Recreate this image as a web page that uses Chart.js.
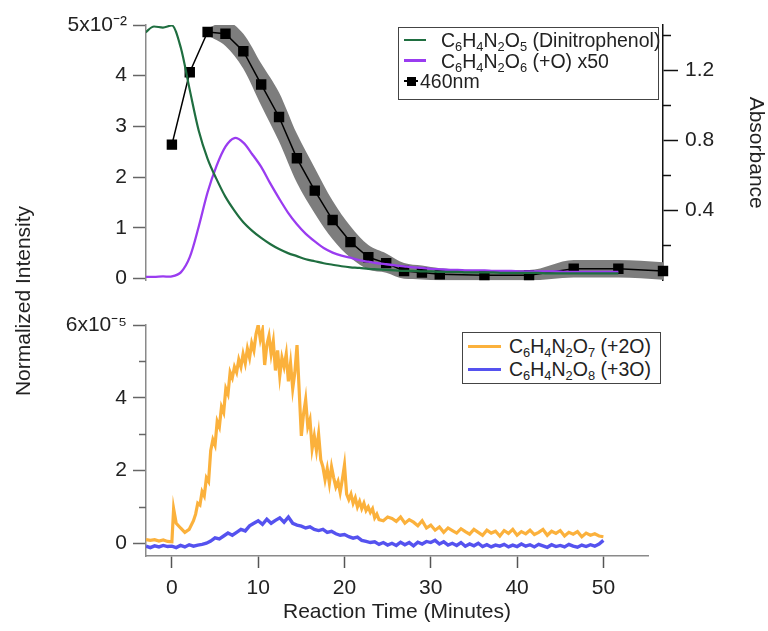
<!DOCTYPE html>
<html>
<head>
<meta charset="utf-8">
<script src="https://cdn.jsdelivr.net/npm/chart.js@4.4.1/dist/chart.umd.min.js"></script>
<style>
    body { margin: 0; background: #fff; }
    #wrap { position: relative; width: 768px; height: 631px; overflow: hidden; font-family: 'Liberation Sans', Arial, sans-serif; color: #222; }
    canvas { position: absolute; left: 0; }
    .ytitle { position: absolute; width: 300px; left: -127px; top: 288px; height: 26px; line-height: 26px; text-align: center; font-size: 21px; transform: rotate(-90deg); }
    .legend { position: absolute; box-sizing: border-box; border: 1px solid #444; background: #fff; font-size: 19.5px; }
    .legend .row { position: absolute; white-space: nowrap; height: 22px; line-height: 22px; }
    .legend sub { font-size: 0.66em; vertical-align: -0.28em; line-height: 0; }
    .legend .line { position: absolute; }
    .legend .mark { position: absolute; width: 9px; height: 9px; background: #000; }
</style>
</head>
<body>
<div id="wrap">
    <canvas id="topChart" width="768" height="300" style="top:0;width:768px;height:300px"></canvas>
    <canvas id="bottomChart" width="768" height="331" style="top:300px;width:768px;height:331px"></canvas>
    <div class="ytitle">Normalized Intensity</div>
    <div id="legendTop" class="legend" style="left:398px;top:27px;width:261px;height:73px"></div>
    <div id="legendBottom" class="legend" style="left:462px;top:332px;width:199px;height:52px"></div>
</div>
<script>
// top panel: MS traces (x10^-2) and 460 nm absorbance
const topTime = [-3, -2, -1, 0, 1, 2, 3, 4, 5, 6, 7, 8, 9, 10, 11, 12, 13, 14, 15, 16, 17, 18, 19, 20,
    21, 22, 23, 24, 25, 26, 27, 28, 29, 30, 31, 32, 33, 34, 35, 36, 37, 38, 39, 40,
    41, 42, 43, 44, 45, 46, 47, 48, 49, 50];
const dinitrophenol = [4.85, 4.97, 4.95, 4.99, 4.55, 3.72, 2.92, 2.36, 1.96, 1.61, 1.34, 1.11, 0.94, 0.80,
    0.68, 0.58, 0.50, 0.44, 0.38, 0.34, 0.30, 0.27, 0.24, 0.22, 0.21, 0.19, 0.18, 0.17, 0.16, 0.15,
    0.15, 0.14, 0.14, 0.13, 0.13, 0.13, 0.12, 0.12, 0.12, 0.12, 0.11, 0.11, 0.11, 0.11, 0.11, 0.10,
    0.10, 0.10, 0.10, 0.10, 0.10, 0.10, 0.10, 0.10];
const plusO = [0.03, 0.03, 0.04, 0.04, 0.12, 0.42, 1.02, 1.70, 2.22, 2.60, 2.77, 2.68, 2.45, 2.20,
    1.88, 1.58, 1.30, 1.07, 0.88, 0.73, 0.60, 0.51, 0.45, 0.41, 0.36, 0.33, 0.30, 0.28, 0.26, 0.24,
    0.22, 0.21, 0.19, 0.18, 0.17, 0.17, 0.16, 0.16, 0.16, 0.15, 0.15, 0.15, 0.14, 0.14, 0.14, 0.14,
    0.14, 0.13, 0.13, 0.13, 0.13, 0.13, 0.13, 0.13];

const absTime = [0, 2, 4, 6, 8, 10, 12, 14, 16, 18, 20, 22, 24, 26, 28, 30, 35, 40, 45, 50, 55];
const abs460 = [0.776, 1.19, 1.42, 1.41, 1.31, 1.12, 0.934, 0.698, 0.513, 0.345, 0.219, 0.132, 0.099,
    0.054, 0.045, 0.035, 0.030, 0.030, 0.067, 0.067, 0.054];
// shaded band, starts at 4 min
const bandTime = [4, 6, 8, 10, 12, 14, 16, 18, 20, 22, 24, 26, 28, 30, 35, 40, 45, 50, 55];
const bandCenter = [1.42, 1.41, 1.31, 1.12, 0.934, 0.698, 0.513, 0.345, 0.219, 0.132, 0.099,
    0.054, 0.045, 0.035, 0.030, 0.030, 0.067, 0.067, 0.054];
const bandErr = [0.02, 0.07, 0.10, 0.12, 0.14, 0.14, 0.13, 0.11, 0.09, 0.07, 0.055, 0.045, 0.04,
    0.035, 0.03, 0.03, 0.05, 0.05, 0.05];

// bottom panel (x10^-5)
const plus2OTime = [-3, -2.5, -2, -1.5, -1, -0.5, 0, 0.2, 0.5, 1, 1.5, 2, 2.5,
    2.75, 3, 3.25, 3.5, 3.75, 4, 4.25, 4.5, 4.75, 5, 5.25, 5.5, 5.75, 6, 6.25, 6.5, 6.75, 7,
    7.25, 7.5, 7.75, 8, 8.25, 8.5, 8.75, 9, 9.25, 9.5, 9.75, 10, 10.25, 10.5, 10.75, 11,
    11.25, 11.5, 11.75, 12, 12.25, 12.5, 12.75, 13, 13.25, 13.5, 13.75, 14, 14.25, 14.5, 14.75, 15,
    15.25, 15.5, 15.75, 16, 16.25, 16.5, 16.75, 17, 17.25, 17.5, 17.75, 18, 18.25, 18.5, 18.75, 19,
    19.25, 19.5, 19.75, 20, 20.25, 20.5, 20.75, 21, 21.25, 21.5, 21.75, 22, 22.25, 22.5, 22.75, 23,
    23.25, 23.5, 23.75, 24,
    24.5, 25, 25.5, 26, 26.5, 27, 27.5, 28, 28.5, 29, 29.5, 30, 30.5, 31, 31.5, 32, 32.5, 33, 33.5,
    34, 34.5, 35, 35.5, 36, 36.5, 37, 37.5, 38, 38.5, 39, 39.5, 40, 40.5, 41, 41.5, 42, 42.5, 43,
    43.5, 44, 44.5, 45, 45.5, 46, 46.5, 47, 47.5, 48, 48.5, 49, 49.5, 50];
const plus2O = [0.10, 0.08, 0.10, 0.06, 0.09, 0.05, 0.04, 0.95, 0.55, 0.42, 0.30, 0.38, 0.62,
    0.80, 1.10, 1.05, 1.42, 1.30, 1.80, 1.70, 2.55, 2.85, 2.70, 3.35, 3.20, 3.75, 3.60, 4.25, 4.10, 4.70, 4.55,
    4.85, 4.70, 5.05, 4.85, 5.20, 4.95, 5.35, 5.10, 5.50, 5.30, 5.75, 6.00, 5.60, 5.85, 4.90, 5.45,
    5.70, 5.20, 5.55, 4.75, 5.30, 4.60, 5.10, 4.85, 5.20, 4.45, 4.95, 4.25, 4.70, 5.45, 4.20, 2.95,
    3.55, 3.95, 3.20, 3.40, 2.60, 2.95, 2.55, 3.00, 2.30, 2.10, 1.75, 2.05, 1.65, 2.10, 1.80, 1.55,
    1.70, 1.40, 1.75, 2.15, 1.35, 1.20, 1.35, 1.10, 1.25, 1.00, 1.15, 0.95, 1.10, 0.90, 1.00, 0.85,
    0.95, 0.70, 0.80, 0.65,
    0.62, 0.72, 0.68, 0.60, 0.72, 0.55, 0.65, 0.58, 0.48, 0.62, 0.42, 0.50, 0.36, 0.45, 0.30, 0.42,
    0.35, 0.28, 0.40, 0.32, 0.25, 0.38, 0.30, 0.22, 0.36, 0.28, 0.33, 0.20, 0.35, 0.27, 0.38, 0.22,
    0.32, 0.26, 0.36, 0.24, 0.30, 0.38, 0.22, 0.33, 0.27, 0.35, 0.20, 0.30, 0.25, 0.32, 0.18, 0.28,
    0.22, 0.26, 0.20, 0.18];

const plus3OTime = [-3, -2.5, -2, -1.5, -1, -0.5, 0, 0.5, 1, 1.5, 2, 2.5, 3, 3.5, 4, 4.5, 5, 5.5, 6, 6.5,
    7, 7.5, 8, 8.5, 9, 9.5, 10, 10.5, 11, 11.5, 12, 12.5, 13, 13.5, 14, 14.5, 15, 15.5, 16, 16.5,
    17, 17.5, 18, 18.5, 19, 19.5, 20, 20.5, 21, 21.5, 22, 22.5, 23, 23.5, 24, 24.5, 25, 25.5, 26, 26.5,
    27, 27.5, 28, 28.5, 29, 29.5, 30, 30.5, 31, 31.5, 32, 32.5, 33, 33.5, 34, 34.5, 35, 35.5, 36, 36.5,
    37, 37.5, 38, 38.5, 39, 39.5, 40, 40.5, 41, 41.5, 42, 42.5, 43, 43.5, 44, 44.5, 45, 45.5, 46, 46.5,
    47, 47.5, 48, 48.5, 49, 49.5, 50];
const plus3O = [-0.08, -0.12, -0.07, -0.10, -0.06, -0.09, -0.08, -0.12, -0.06, -0.10,
    -0.04, -0.08, -0.05, -0.03, 0.00, 0.06, 0.15, 0.12, 0.20, 0.28,
    0.22, 0.30, 0.38, 0.34, 0.48, 0.55, 0.62, 0.52, 0.66, 0.55,
    0.63, 0.70, 0.58, 0.72, 0.55, 0.50, 0.47, 0.42, 0.45, 0.38,
    0.35, 0.38, 0.30, 0.33, 0.26, 0.22, 0.24, 0.18, 0.14, 0.17,
    0.08, 0.05, 0.02, 0.04, -0.03, 0.02, -0.05, 0.00, -0.06, 0.03,
    -0.04, 0.02, -0.07, 0.03, -0.02, 0.05, 0.02, 0.08, -0.02, 0.04,
    -0.05, 0.00, -0.06, 0.02, -0.08, -0.02, -0.07, 0.00, -0.09, -0.04,
    -0.10, -0.05, -0.08, -0.03, -0.10, -0.05, -0.09, -0.02, -0.08, -0.04,
    -0.10, -0.03, -0.07, -0.11, -0.04, -0.09, -0.06, -0.10, -0.03, -0.08,
    -0.11, -0.05, -0.09, -0.04, -0.08, -0.02, 0.08];

const topTicks = [0, 1, 2, 3, 4, 5];
const absTicks = [0.4, 0.8, 1.2];
const absMinorTicks = [0.2, 0.6, 1.0, 1.4];
const bottomTicks = [0, 2, 4, 6];
const bottomMinorTicks = [1, 3, 5];
const timeTicks = [0, 10, 20, 30, 40, 50];

const topLabels = ['C<sub>6</sub>H<sub>4</sub>N<sub>2</sub>O<sub>5</sub> (Dinitrophenol)',
    'C<sub>6</sub>H<sub>4</sub>N<sub>2</sub>O<sub>6</sub> (+O) x50', '460nm'];
const bottomLabels = ['C<sub>6</sub>H<sub>4</sub>N<sub>2</sub>O<sub>7</sub> (+2O)',
    'C<sub>6</sub>H<sub>4</sub>N<sub>2</sub>O<sub>8</sub> (+3O)'];

const GREEN = '#1f6e40';
const PURPLE = '#9a3cf0';
const ORANGE = '#fbb13c';
const BLUE = '#5552ef';
const FONT = "'Liberation Sans', Arial, sans-serif";

const pts = (xs, ys) => xs.map((x, i) => ({ x: x, y: ys[i] }));
const plain = (s) => s.replace(/<[^>]+>/g, '');

const minorTickPlugin = {
    id: 'minorTicks',
    afterDraw(chart, args, opts) {
        const ctx = chart.ctx;
        (opts.list || []).forEach(m => {
            const s = chart.scales[m.axis];
            ctx.save();
            ctx.strokeStyle = m.color;
            ctx.lineWidth = 1.5;
            m.values.forEach(v => {
                const y = Math.round(s.getPixelForValue(v)) + 0.5;
                ctx.beginPath();
                if (s.position === 'left') {
                    ctx.moveTo(s.right - m.length, y);
                    ctx.lineTo(s.right, y);
                } else {
                    ctx.moveTo(s.left, y);
                    ctx.lineTo(s.left + m.length, y);
                }
                ctx.stroke();
            });
            ctx.restore();
        });
    }
};

const tickFont = { family: FONT, size: 21 };

const topChart = new Chart(document.getElementById('topChart'), {
    type: 'line',
    data: {
        datasets: [
            {
                label: 'band lower',
                data: pts(bandTime, bandCenter.map((v, i) => v - bandErr[i])),
                yAxisID: 'yAbs',
                borderWidth: 0,
                pointRadius: 0,
                fill: false,
                cubicInterpolationMode: 'monotone',
                clip: false,
                order: 5,
            },
            {
                label: 'band upper',
                data: pts(bandTime, bandCenter.map((v, i) => v + bandErr[i])),
                yAxisID: 'yAbs',
                borderWidth: 0,
                pointRadius: 0,
                backgroundColor: '#7d7d7d',
                fill: '-1',
                cubicInterpolationMode: 'monotone',
                clip: false,
                order: 4,
            },
            {
                label: plain(topLabels[2]),
                data: pts(absTime, abs460),
                yAxisID: 'yAbs',
                borderColor: '#000',
                backgroundColor: '#000',
                borderWidth: 1.5,
                pointStyle: 'rect',
                pointRadius: 6.3,
                tension: 0,
                clip: false,
                order: 3,
            },
            {
                label: plain(topLabels[1]),
                data: pts(topTime, plusO),
                borderColor: PURPLE,
                borderWidth: 2.3,
                pointRadius: 0,
                tension: 0.3,
                order: 2,
            },
            {
                label: plain(topLabels[0]),
                data: pts(topTime, dinitrophenol),
                borderColor: GREEN,
                borderWidth: 2.2,
                pointRadius: 0,
                cubicInterpolationMode: 'monotone',
                order: 1,
            },
        ]
    },
    options: {
        responsive: false,
        animation: false,
        layout: { padding: { top: 25, bottom: 13, left: 0, right: 0 } },
        scales: {
            x: {
                type: 'linear',
                display: false,
                min: -2.9,
                max: 55,
            },
            y: {
                position: 'left',
                min: -0.0385,
                max: 5,
                afterFit: (s) => { s.width = 146; },
                afterBuildTicks: (s) => { s.ticks = topTicks.map(v => ({ value: v })); },
                ticks: {
                    font: tickFont,
                    color: '#222',
                    padding: 6,
                    callback: (v) => v === 5 ? '5x10\u207B\u00B2' : String(v),
                },
                grid: { drawOnChartArea: false, tickLength: 13, tickColor: '#666', tickWidth: 1.5 },
                border: { color: '#8a8a8a', width: 1.5 },
            },
            yAbs: {
                position: 'right',
                min: 0,
                max: 1.46,
                afterFit: (s) => { s.width = 105; },
                afterBuildTicks: (s) => { s.ticks = absTicks.map(v => ({ value: v })); },
                ticks: {
                    font: tickFont,
                    color: '#222',
                    padding: 7,
                    callback: (v) => v.toFixed(1),
                },
                grid: { drawOnChartArea: false, tickLength: 15, tickColor: '#111', tickWidth: 1.5 },
                border: { color: '#111', width: 1.5 },
                title: {
                    display: true,
                    text: 'Absorbance',
                    font: { family: FONT, size: 21 },
                    color: '#222',
                    padding: 0,
                },
            },
        },
        plugins: {
            legend: { display: false },
            tooltip: { enabled: false },
            minorTicks: { list: [{ axis: 'yAbs', values: absMinorTicks, length: 8, color: '#111' }] },
        },
    },
    plugins: [minorTickPlugin],
});

const bottomChart = new Chart(document.getElementById('bottomChart'), {
    type: 'line',
    data: {
        datasets: [
            {
                label: plain(bottomLabels[1]),
                data: pts(plus3OTime, plus3O),
                borderColor: BLUE,
                borderWidth: 3.4,
                pointRadius: 0,
                tension: 0,
                order: 2,
            },
            {
                label: plain(bottomLabels[0]),
                data: pts(plus2OTime, plus2O),
                borderColor: ORANGE,
                borderWidth: 3.2,
                pointRadius: 0,
                tension: 0,
                order: 1,
            },
        ]
    },
    options: {
        responsive: false,
        animation: false,
        layout: { padding: { top: 25, bottom: 0, left: 0, right: 120 } },
        scales: {
            x: {
                type: 'linear',
                min: -3,
                max: 55.17,
                afterFit: (s) => { s.height = 75; },
                afterBuildTicks: (s) => { s.ticks = timeTicks.map(v => ({ value: v })); },
                ticks: { font: tickFont, color: '#222', padding: 8, maxRotation: 0 },
                grid: { drawOnChartArea: false, tickLength: 12, tickColor: '#555', tickWidth: 1.5 },
                border: { color: '#8a8a8a', width: 1.5 },
                title: {
                    display: true,
                    text: 'Reaction Time (Minutes)',
                    font: { family: FONT, size: 21 },
                    color: '#222',
                    padding: { top: 0, bottom: 6 },
                },
            },
            y: {
                position: 'left',
                min: -0.35,
                max: 6,
                afterFit: (s) => { s.width = 146; },
                afterBuildTicks: (s) => { s.ticks = bottomTicks.map(v => ({ value: v })); },
                ticks: {
                    font: tickFont,
                    color: '#222',
                    padding: 6,
                    callback: (v) => v === 6 ? '6x10\u207B\u2075' : String(v),
                },
                grid: { drawOnChartArea: false, tickLength: 13, tickColor: '#666', tickWidth: 1.5 },
                border: { color: '#8a8a8a', width: 1.5 },
            },
        },
        plugins: {
            legend: { display: false },
            tooltip: { enabled: false },
            minorTicks: { list: [{ axis: 'y', values: bottomMinorTicks, length: 7, color: '#666' }] },
        },
    },
    plugins: [minorTickPlugin],
});

// legends, built as html so the subscripts stay real text
function addRow(box, cy, textX, label, sample) {
    const row = document.createElement('div');
    row.className = 'row';
    row.style.left = textX + 'px';
    row.style.top = (cy - 11) + 'px';
    row.innerHTML = label;
    box.appendChild(row);

    const line = document.createElement('div');
    line.className = 'line';
    line.style.left = sample.x0 + 'px';
    line.style.width = (sample.x1 - sample.x0) + 'px';
    line.style.top = (cy - sample.width / 2) + 'px';
    line.style.height = sample.width + 'px';
    line.style.background = sample.color;
    box.appendChild(line);

    if (sample.mark) {
        const m = document.createElement('div');
        m.className = 'mark';
        m.style.left = (sample.mark - 4.5) + 'px';
        m.style.top = (cy - 4.5) + 'px';
        box.appendChild(m);
    }
}

const legendTop = document.getElementById('legendTop');
addRow(legendTop, 12, 42, topLabels[0], { x0: 5, x1: 27, width: 2.5, color: GREEN });
addRow(legendTop, 32.5, 42, topLabels[1], { x0: 5, x1: 27, width: 2.5, color: PURPLE });
addRow(legendTop, 53, 21, topLabels[2], { x0: 5, x1: 19, width: 1.5, color: '#000', mark: 12 });

const legendBottom = document.getElementById('legendBottom');
addRow(legendBottom, 13, 46, bottomLabels[0], { x0: 5, x1: 38, width: 3, color: ORANGE });
addRow(legendBottom, 36, 46, bottomLabels[1], { x0: 5, x1: 38, width: 3, color: BLUE });
</script>
</body>
</html>
